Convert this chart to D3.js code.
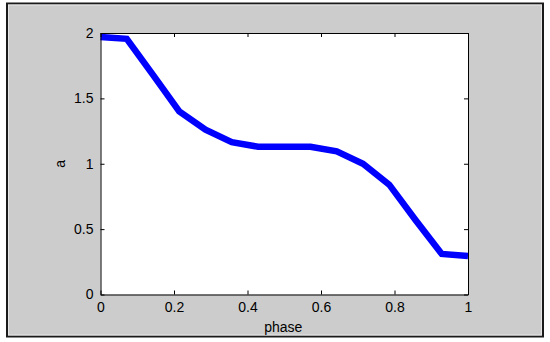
<!DOCTYPE html>
<html>
<head>
<meta charset="utf-8">
<script src="https://d3js.org/d3.v7.min.js"></script>
<style>
  html, body { margin: 0; padding: 0; background: #ffffff; }
  svg { display: block; }
  text { font-family: Arial, "Liberation Sans", sans-serif; fill: #000; }
</style>
</head>
<body>
<svg id="chart" width="550" height="342"></svg>
<script>
// Data
const phase = [0, 1/14, 2/14, 3/14, 4/14, 5/14, 6/14, 7/14, 8/14, 9/14, 10/14, 11/14, 12/14, 13/14, 1];
const aValues = [1.97, 1.955, 1.68, 1.40, 1.26, 1.165, 1.13, 1.13, 1.13, 1.095, 1.0, 0.84, 0.57, 0.31, 0.295];
const xTicks = [0, 0.2, 0.4, 0.6, 0.8, 1];
const yTicks = [0, 0.5, 1, 1.5, 2];
const xLabel = "phase";
const yLabel = "a";

(function () {
const svg = d3.select("#chart");

// Figure background and frame
svg.append("rect").attr("x", 7).attr("y", 3.5).attr("width", 536).attr("height", 333)
  .attr("fill", "#cccccc").attr("stroke", "#1a1a1a").attr("stroke-width", 2);
svg.append("rect").attr("x", 8.5).attr("y", 5).attr("width", 533).attr("height", 330)
  .attr("fill", "none").attr("stroke", "#e6e6e6").attr("stroke-width", 1);

const L = 100.5, R = 468, T = 33, B = 294.5;

const x = d3.scaleLinear().domain([0, 1]).range([L, R]);
const y = d3.scaleLinear().domain([0, 2]).range([B, T]);

// Plot area
svg.append("rect").attr("x", L).attr("y", T).attr("width", R - L).attr("height", B - T)
  .attr("fill", "#ffffff");

// Curve
svg.append("path")
  .datum(phase.map((p, i) => [p, aValues[i]]))
  .attr("fill", "none")
  .attr("stroke", "#0000ff")
  .attr("stroke-width", 6.5)
  .attr("stroke-linejoin", "miter")
  .attr("stroke-linecap", "butt")
  .attr("d", d3.line().x(d => x(d[0])).y(d => y(d[1])));

// Axes (ticks inward, box on)
const tickLen = 4;
const fmt = d3.format("");
const gBottom = svg.append("g").attr("transform", `translate(0,${B})`)
  .call(d3.axisBottom(x).tickValues(xTicks).tickSizeInner(-tickLen).tickSizeOuter(0).tickPadding(8).tickFormat(fmt));
const gTop = svg.append("g").attr("transform", `translate(0,${T})`)
  .call(d3.axisTop(x).tickValues(xTicks).tickSizeInner(-tickLen).tickSizeOuter(0).tickFormat(""));
const gLeft = svg.append("g").attr("transform", `translate(${L},0)`)
  .call(d3.axisLeft(y).tickValues(yTicks).tickSizeInner(-tickLen).tickSizeOuter(0).tickPadding(7).tickFormat(fmt));
const gRight = svg.append("g").attr("transform", `translate(${R},0)`)
  .call(d3.axisRight(y).tickValues(yTicks).tickSizeInner(-tickLen).tickSizeOuter(0).tickFormat(""));

[gBottom, gTop, gLeft, gRight].forEach(g => {
  g.selectAll("path.domain").attr("stroke", "#000").attr("stroke-width", 1);
  g.selectAll(".tick line").attr("stroke", "#000");
  g.selectAll(".tick text").attr("font-size", 14).attr("font-family", "Arial, 'Liberation Sans', sans-serif").attr("fill", "#000");
});
gBottom.selectAll(".tick text").attr("dy", "0.71em");

// Axis labels
svg.append("text").attr("x", (L + R) / 2 - 1).attr("y", 332)
  .attr("text-anchor", "middle").attr("font-size", 14).text(xLabel);
svg.append("text").attr("transform", `translate(65,${(T + B) / 2}) rotate(-90)`)
  .attr("text-anchor", "middle").attr("font-size", 14).text(yLabel);
})();
</script>
</body>
</html>
